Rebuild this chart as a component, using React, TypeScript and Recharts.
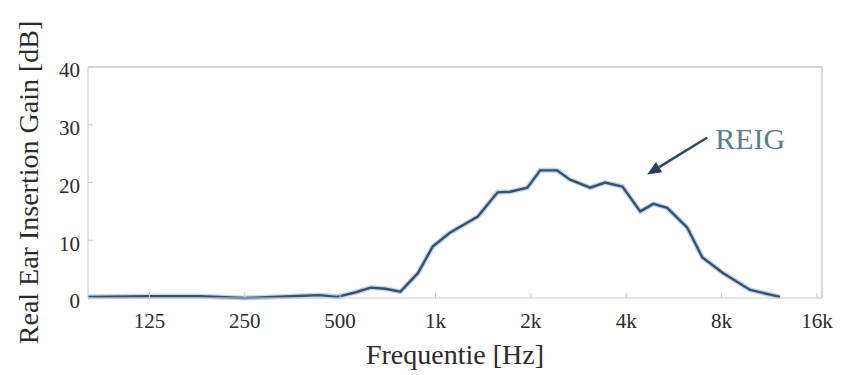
import React from 'react';
import {
  LineChart, Line, XAxis, YAxis, ReferenceLine, ReferenceDot,
} from 'recharts';

// Real Ear Insertion Gain
const freqs = [80, 125, 180, 250, 350, 430, 490, 560, 625, 695, 775, 880, 980, 1110, 1360, 1570, 1720, 1950, 2140, 2420, 2660, 3080, 3430, 3890, 4430, 4870, 5390, 6230, 6960, 8100, 9850, 12240];
const gain = [0.2, 0.3, 0.3, 0, 0.3, 0.5, 0.2, 1.0, 1.8, 1.6, 1.1, 4.3, 8.9, 11.3, 14.1, 18.3, 18.4, 19.1, 22.1, 22.1, 20.5, 19.1, 20.0, 19.3, 15.0, 16.3, 15.6, 12.2, 7.0, 4.3, 1.4, 0.2];

const xTicks = [125, 250, 500, 1000, 2000, 4000, 8000, 16000];
const xTickLabels = ['125', '250', '500', '1k', '2k', '4k', '8k', '16k'];
const yTicks = [0, 10, 20, 30, 40];

const data = freqs.map((f, i) => ({ f, g: gain[i] }));

const SERIF = '"Liberation Serif", "DejaVu Serif", serif';
const AXIS = '#c9c9c9';
const INK = '#2b2b2b';

const fmtX = (v: number) => xTickLabels[xTicks.indexOf(v)] ?? String(v);

const XTitle = ({ viewBox }: any) => (
  <text x={viewBox.x + viewBox.width / 2} y={viewBox.y + 66} textAnchor="middle"
    fill={INK} fontSize={28} fontFamily={SERIF}>Frequentie [Hz]</text>
);

const YTitle = ({ viewBox }: any) => {
  const cx = 28, cy = viewBox.y + viewBox.height / 2;
  return (
    <text x={cx} y={cy} transform={`rotate(-90 ${cx} ${cy})`} textAnchor="middle" dominantBaseline="central"
      fill={INK} fontSize={28} fontFamily={SERIF}>Real Ear Insertion Gain [dB]</text>
  );
};

// arrow pointing at the curve
const Arrow = (p: any) => {
  const { x1, y1, x2, y2 } = p;
  const ang = Math.atan2(y2 - y1, x2 - x1);
  const L = 14, W = 6;
  const bx = x2 - L * Math.cos(ang), by = y2 - L * Math.sin(ang);
  const nx = -Math.sin(ang) * W, ny = Math.cos(ang) * W;
  return (
    <g>
      <line x1={x1} y1={y1} x2={bx} y2={by} stroke="#34495e" strokeWidth={2.5} />
      <polygon points={`${x2},${y2} ${bx + nx},${by + ny} ${bx - nx},${by - ny}`} fill="#2c3e55" />
    </g>
  );
};

export default function App() {
  return (
    <div style={{ position: 'absolute', left: 0, top: 0, background: '#fff', fontFamily: SERIF }}>
      <LineChart width={841} height={375} data={data} margin={{ top: 66, right: 18, bottom: 0, left: 0 }}>
        <XAxis
          dataKey="f" type="number" scale="log" domain={[80, 16600]} allowDataOverflow
          ticks={xTicks} tickFormatter={fmtX} interval={0}
          height={77} tickSize={-5} tickMargin={20}
          stroke={AXIS} axisLine={{ stroke: AXIS }} tickLine={{ stroke: AXIS }}
          tick={{ fill: INK, fontSize: 21, fontFamily: SERIF }}
          label={{ content: XTitle }}
        />
        <XAxis
          xAxisId="top" orientation="top" dataKey="f" type="number" scale="log" domain={[80, 16600]} allowDataOverflow
          ticks={xTicks} height={1} tickSize={-5} tick={false}
          axisLine={{ stroke: AXIS }} tickLine={{ stroke: AXIS }}
        />
        <YAxis
          domain={[0, 40]} ticks={yTicks} width={88} tickSize={-5} tickMargin={13}
          axisLine={{ stroke: AXIS }} tickLine={{ stroke: AXIS }}
          tick={{ fill: INK, fontSize: 21, fontFamily: SERIF, dy: 3 }}
          label={{ content: YTitle }}
        />
        <YAxis
          yAxisId="right" orientation="right" domain={[0, 40]} ticks={yTicks} width={1} tickSize={-5} tick={false}
          axisLine={{ stroke: AXIS }} tickLine={{ stroke: AXIS }}
        />
        <ReferenceLine y={40} stroke={AXIS} />
        <ReferenceLine x={16600} stroke={AXIS} />
        <Line dataKey="g" type="linear" stroke="#bcd6f0" strokeWidth={5} dot={false} isAnimationActive={false} />
        <Line dataKey="g" type="linear" stroke="#3e5068" strokeWidth={2.4} dot={false} isAnimationActive={false} />
        <ReferenceLine
          segment={[{ x: 7210, y: 27.8 }, { x: 4660, y: 21.4 }]}
          shape={(p: any) => <Arrow {...p} />}
        />
        <ReferenceDot
          x={9850} y={27.5} r={0}
          shape={(p: any) => (
            <text x={p.cx} y={p.cy + 10} textAnchor="middle" fill="#5b8087" fontSize={30} fontFamily={SERIF}>REIG</text>
          )}
        />
      </LineChart>
    </div>
  );
}
